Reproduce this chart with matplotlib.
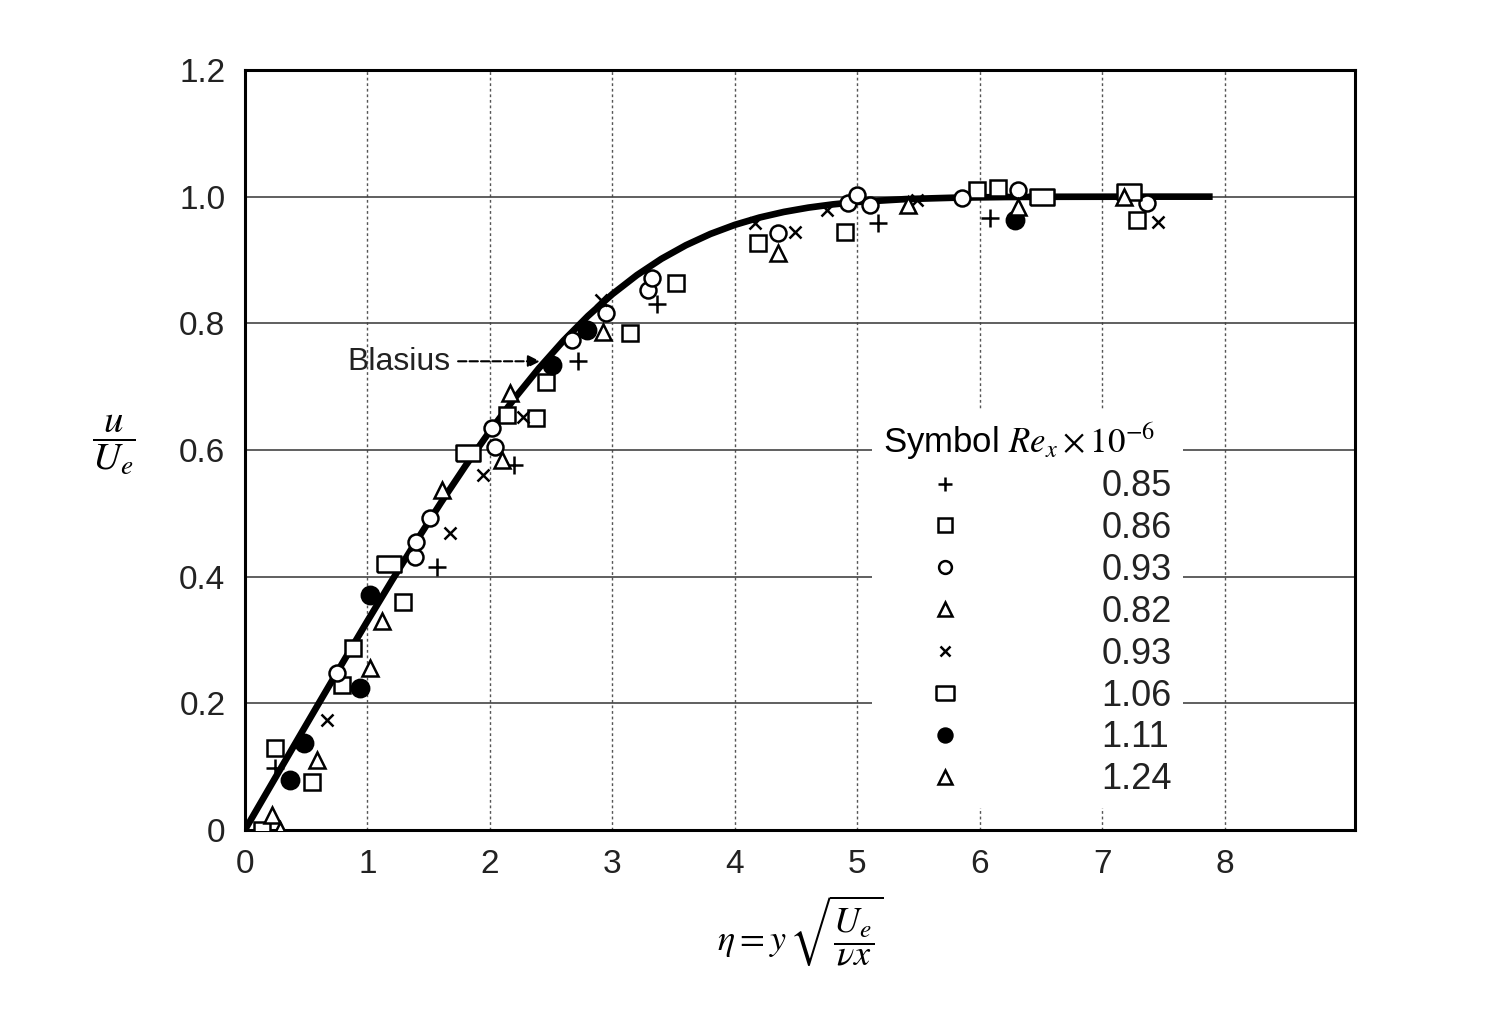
import numpy as np
import matplotlib
matplotlib.use("Agg")
import matplotlib.pyplot as plt

plt.rcParams['font.family'] = ['Liberation Sans', 'DejaVu Sans']
plt.rcParams['mathtext.fontset'] = 'stix'

# Blasius solution (eta, u/Ue)
blasius_eta = [0.0, 0.2, 0.4, 0.6, 0.8, 1.0, 1.2, 1.4, 1.6, 1.8, 2.0, 2.2, 2.4, 2.6, 2.8,
               3.0, 3.2, 3.4, 3.6, 3.8, 4.0, 4.2, 4.4, 4.6, 4.8, 5.0, 5.4, 5.8, 6.2,
               6.6, 7.0, 7.4, 7.9]
blasius_u = [0.0, 0.0664, 0.1328, 0.1989, 0.2647, 0.3298, 0.3938, 0.4563, 0.5168, 0.5748,
             0.6298, 0.6813, 0.7290, 0.7725, 0.8115, 0.8461, 0.8761, 0.9018, 0.9233,
             0.9411, 0.9555, 0.9670, 0.9759, 0.9827, 0.9878, 0.9916, 0.9962, 0.9984,
             0.9994, 0.9998, 0.9999, 1.0, 1.0]

# measured points, one list per Re_x
plus_eta = [0.245, 1.57, 2.20, 2.72, 3.36, 5.17, 6.08]
plus_u = [0.098, 0.415, 0.576, 0.740, 0.830, 0.958, 0.966]

sq_eta = [0.14, 0.245, 0.55, 0.79, 0.88, 1.29, 2.14, 2.38, 2.46, 3.14, 3.52, 4.19, 4.90,
          5.98, 6.15, 7.28]
sq_u = [0.0, 0.130, 0.076, 0.229, 0.287, 0.360, 0.655, 0.650, 0.707, 0.784, 0.864, 0.927,
        0.944, 1.010, 1.013, 0.963]

circ_eta = [0.75, 1.39, 1.40, 1.51, 2.02, 2.04, 2.67, 2.95, 3.29, 3.32, 4.35, 4.92, 5.00,
            5.10, 5.85, 6.31, 7.36]
circ_u = [0.248, 0.431, 0.455, 0.493, 0.635, 0.605, 0.774, 0.816, 0.853, 0.872, 0.942,
          0.990, 1.003, 0.987, 0.998, 1.010, 0.990]

tri1_eta = [0.22, 0.59, 1.12, 1.61, 2.10, 2.92, 4.35]
tri1_u = [0.024, 0.110, 0.330, 0.537, 0.584, 0.786, 0.911]

x_eta = [0.67, 1.67, 1.94, 2.27, 2.91, 4.16, 4.49, 4.75, 5.49, 7.45]
x_u = [0.174, 0.469, 0.560, 0.652, 0.837, 0.958, 0.944, 0.979, 0.995, 0.960]

rect_eta = [1.18, 1.82, 6.51, 7.22]
rect_u = [0.420, 0.595, 1.000, 1.007]

dot_eta = [0.37, 0.48, 0.94, 1.02, 2.51, 2.79, 6.29]
dot_u = [0.079, 0.137, 0.224, 0.371, 0.734, 0.790, 0.963]

tri2_eta = [0.29, 1.02, 2.16, 5.41, 6.31, 7.18]
tri2_u = [0.0, 0.256, 0.690, 0.987, 0.984, 1.000]

re_labels = ['0.85', '0.86', '0.93', '0.82', '0.93', '1.06', '1.11', '1.24']

rect_marker = [(-1.45, -1), (1.45, -1), (1.45, 1), (-1.45, 1), (-1.45, -1)]

fig = plt.figure(figsize=(15.12, 10.22), dpi=100)
ax = fig.add_axes([0.162, 0.188, 0.734, 0.7435])

ax.plot(blasius_eta, blasius_u, color='black', lw=4.8, zorder=3,
        solid_capstyle='butt')

common = dict(ls='none', color='black', mew=1.8, zorder=4)
series = [
    (plus_eta, plus_u, dict(marker='+', ms=13)),
    (sq_eta, sq_u, dict(marker='s', ms=12, mfc='white')),
    (circ_eta, circ_u, dict(marker='o', ms=11.5, mfc='white')),
    (tri1_eta, tri1_u, dict(marker='^', ms=12, mfc='white')),
    (x_eta, x_u, dict(marker='x', ms=9)),
    (rect_eta, rect_u, dict(marker=rect_marker, ms=17, mfc='white')),
    (dot_eta, dot_u, dict(marker='o', ms=12.5, mfc='black')),
    (tri2_eta, tri2_u, dict(marker='^', ms=12, mfc='white')),
]
for (e, u, st), lab in zip(series, re_labels):
    ax.plot(e, u, label=lab, **common, **st)

ax.set_xlim(0, 9.06)
ax.set_ylim(0, 1.2)
ax.set_xticks(range(0, 9))
ax.set_yticks([0, 0.2, 0.4, 0.6, 0.8, 1.0, 1.2])
ax.set_yticklabels(['0', '0.2', '0.4', '0.6', '0.8', '1.0', '1.2'])
ax.tick_params(length=0, labelsize=24, pad=14, colors='#222222')

for x in range(1, 9):
    ax.axvline(x, color='#555555', lw=1.0, ls=(0, (2, 2)), zorder=1)
for y in [0.2, 0.4, 0.6, 0.8, 1.0]:
    ax.axhline(y, color='#444444', lw=1.2, zorder=1)

for s in ax.spines.values():
    s.set_linewidth(2.2)
    s.set_color('black')

# Blasius label with arrow
ax.annotate('', xy=(2.41, 0.74), xytext=(1.74, 0.74),
            arrowprops=dict(arrowstyle='-|>', color='black', lw=1.5,
                            linestyle=(0, (4, 1.5)), mutation_scale=18,
                            shrinkA=0, shrinkB=0),
            zorder=5)
ax.text(1.68, 0.739, 'Blasius', fontsize=23, ha='right', va='center',
        color='#222222', zorder=5)

leg = ax.legend(loc='upper left', bbox_to_anchor=(0.549, 0.576), frameon=True,
                fontsize=26, title=r'Symbol $Re_x\times 10^{-6}$',
                title_fontsize=25, handletextpad=2.6, labelspacing=0.19,
                borderpad=0.3, handlelength=3.45, markerscale=0.8,
                alignment='left')
leg.get_frame().set_facecolor('white')
leg.get_frame().set_edgecolor('none')
leg.get_frame().set_alpha(1)
leg.set_zorder(6)
for t in leg.get_texts():
    t.set_color('#222222')

ax.set_xlabel(r'$\eta = y\,\sqrt{\dfrac{U_e}{\nu x}}$', fontsize=26, labelpad=10)
ax.set_ylabel(r'$\dfrac{u}{U_e}$', fontsize=28, rotation=0, labelpad=40, va='center')
ax.yaxis.set_label_coords(-0.118, 0.507)

fig.savefig('out.png', dpi=100, facecolor='white')
